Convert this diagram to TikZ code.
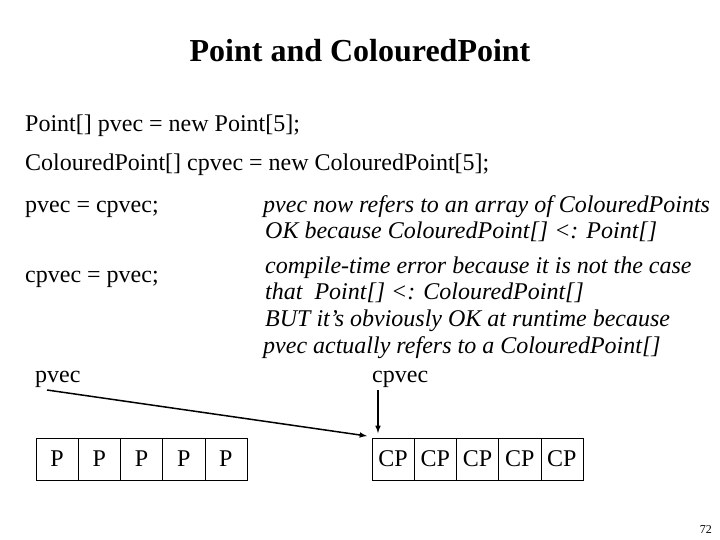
\documentclass[tikz,border=0pt]{standalone}
\usepackage{fontspec}
\setmainfont{Liberation Serif}
\usetikzlibrary{arrows,positioning}

\begin{document}
\begin{tikzpicture}[x=1pt, y=-1pt,
    title/.style={anchor=base, inner sep=0pt, font=\fontsize{32}{36}\selectfont\bfseries},
    code/.style={anchor=base west, inner sep=0pt, font=\fontsize{24}{28}\selectfont},
    note/.style={anchor=base west, inner sep=0pt, font=\fontsize{24}{28}\selectfont\itshape},
    cell/.style={rectangle, draw, minimum width=42.2pt, minimum height=42pt,
        inner sep=0pt, outer sep=0pt, font=\fontsize{24}{28}\selectfont},
    arrow/.style={->, line width=1.5pt, >=latex}
]
    \useasboundingbox (0,0) rectangle (720,540);

    \node[title] (head) at (360,62) {Point and ColouredPoint};

    \node[code] (decl1) at (25,132) {Point[] pvec = new Point[5];};
    \node[code] (decl2) at (25,171) {ColouredPoint[] cpvec = new ColouredPoint[5];};
    \node[code] (asg1) at (25,212) {pvec = cpvec;};
    \node[code] (asg2) at (25,282) {cpvec = pvec;};

    \node[note] (n1) at (263,212) {pvec now refers to an array of ColouredPoints};
    \node[note] (n2) at (265,238) {OK because ColouredPoint[] <: Point[]};
    \node[note] (n3) at (265,273) {compile-time error because it is not the case};
    \node[note] (n4) at (265,299) {that \ Point[] <: ColouredPoint[]};
    \node[note] (n5) at (265,326) {BUT it's obviously OK at runtime because};
    \node[note] (n6) at (263,353) {pvec actually refers to a ColouredPoint[]};

    % the two arrays
    \node[cell, anchor=north west] (pcell1) at (36,438) {P};
    \node[cell, anchor=north west] (cpcell1) at (372,438) {CP};
    \foreach \i [evaluate=\i as \j using int(\i-1)] in {2,...,5} {
        \node[cell, right=0pt of pcell\j] (pcell\i) {P};
        \node[cell, right=0pt of cpcell\j] (cpcell\i) {CP};
    }

    \node[code] (pvlbl) at (35,382) {pvec};
    \node[code] (cpvlbl) at (372,382) {cpvec};

    \coordinate (pvtail) at (47,390);
    \draw[arrow] (pvtail) -- ([xshift=-5pt,yshift=2pt]cpcell1.north west);
    \draw[arrow] ([xshift=6pt,yshift=-3pt]cpvlbl.south west) -- ([xshift=6pt,yshift=5pt]cpcell1.north west);

    \node[anchor=base east, inner sep=0pt, font=\fontsize{12}{14}\selectfont] (pageno) at (712,533) {72};
\end{tikzpicture}
\end{document}
